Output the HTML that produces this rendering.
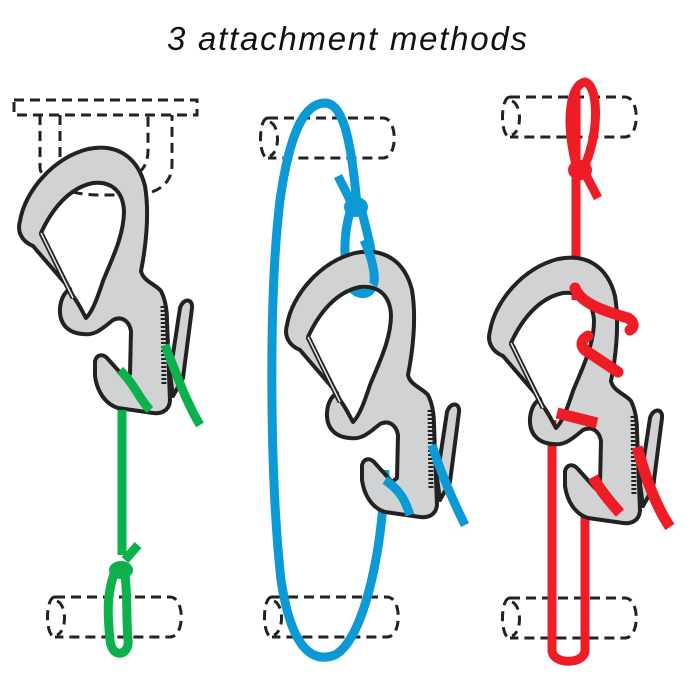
<!DOCTYPE html>
<html><head><style>
html,body{margin:0;padding:0;background:#fff;width:700px;height:700px;overflow:hidden}
</style></head><body>
<svg width="700" height="700" viewBox="0 0 700 700" xmlns="http://www.w3.org/2000/svg">
<defs>
<g id="cara">
  <path fill-rule="evenodd" fill="#d1d2d4" stroke="#222" stroke-width="4" stroke-linejoin="round" d="
  M300,350 C288,345 284,335 287,325 C292,295 320,262 355,253 C385,247 405,262 412,290 C417,320 412,355 408,375 C410,385 422,388 428,395 C433,405 434,415 434,425 L437,505 C436,515 428,518 420,517 L385,512 C372,508 364,495 362,480 L362,465 C364,458 370,458 374,462 L392,482 L397,478 L398,435 C396,424 388,420 380,424 C370,432 362,440 350,438 C335,437 326,428 327,412 C328,402 332,396 337,393 Z
  M308,337 C318,315 335,292 360,287 C378,285 390,295 391,315 C391,340 378,365 370,385 C365,400 360,415 353,422 C349,415 346,408 340,400 Z"/>
  <path d="M308,337 L340,402" stroke="#222" stroke-width="5"/>
  <path d="M308,337 L340,402" stroke="#e6e6e6" stroke-width="1.5"/>
  <path fill="#d1d2d4" stroke="#222" stroke-width="4" stroke-linejoin="round" d="M437,478 L447,412 C450,402 460,402 459,412 L450,482 L440,500 Z"/>
  <path d="M430,410 L431,488" stroke="#222" stroke-width="5" stroke-dasharray="2 2"/>
</g>
<g id="cyl" fill="none" stroke="#222" stroke-width="3" stroke-dasharray="10 6">
  <path d="M10,0 L125,0 C140,0 140,40 125,40 L10,40 M10,0 C0,0 0,40 10,40 M12,4 C22,8 22,34 12,38"/>
</g>
</defs>
<text x="347" y="50" text-anchor="middle" font-family="Liberation Sans, sans-serif" font-style="italic" font-size="33" fill="#111" textLength="360">3 attachment methods</text>

<g fill="none" stroke="#222" stroke-width="3" stroke-dasharray="10 6">
  <path d="M14,100 L197,100 L197,115 L14,115 Z"/>
  <path d="M40,115 L40,168 C42,185 70,195 100,195 L140,195 C160,192 172,182 172,165 L172,115"/>
  <path d="M60,115 L60,160 C70,172 110,176 135,175 C145,170 148,160 148,150 L148,115"/>
</g>
<use href="#cyl" x="258" y="118"/>
<use href="#cyl" x="500" y="97"/>
<use href="#cyl" x="45" y="597"/>
<use href="#cyl" x="262" y="597"/>
<use href="#cyl" x="500" y="598"/>

<g stroke="#0b9ad6" stroke-width="9" fill="none">
  <path d="M385,470 C382,560 362,640 335,655 C308,665 290,640 281,580 C270,480 268,300 280,200 C290,130 305,103 325,103 C345,103 352,150 357,205"/>
  <path d="M350,212 C342,240 344,270 352,288 C358,296 370,296 373,285 C376,265 368,235 362,212"/>
</g>
<path d="M576,90 L576,300 M552,420 L552,650 C552,665 585,665 585,650 L585,480" stroke="#ee1c25" stroke-width="9" fill="none"/>

<use href="#cara" transform="translate(-267,-104)"/>
<use href="#cara"/>
<use href="#cara" transform="translate(203,6)"/>

<g stroke="#0db14b" stroke-width="9" fill="none">
  <path d="M120,370 C135,385 140,400 150,410"/>
  <path d="M165,345 C175,370 185,400 200,425"/>
  <path d="M122,410 L122,555"/>
  <path d="M118,565 C105,590 108,620 110,640 C112,660 130,655 128,640 C126,620 128,590 124,570"/>
  <ellipse cx="121" cy="570" rx="12" ry="9" fill="#0db14b" stroke="none"/>
  <path d="M125,560 L138,545"/>
</g>
<g stroke="#0b9ad6" stroke-width="9" fill="none">
  <path d="M364,240 C374,262 376,280 373,285"/>
  <ellipse cx="356" cy="207" rx="12" ry="10" fill="#0b9ad6" stroke="none"/>
  <path d="M350,200 L338,176"/>
  <path d="M385,480 C400,490 405,500 410,515"/>
  <path d="M432,445 C440,470 450,495 465,525"/>
</g>
<g stroke="#ee1c25" stroke-width="11" fill="none">
  <path d="M575,288 C580,302 600,310 628,318 C635,322 634,328 630,330" stroke-linecap="round"/>
  <path d="M588,336 C580,340 580,348 588,352 L618,372" stroke-linecap="round"/>
  <path d="M557,413 L597,423"/>
  <path d="M593,477 C600,490 610,502 620,513"/>
  <path d="M637,447 C645,475 655,505 670,527"/>
</g>
<g stroke="#ee1c25" stroke-width="9" fill="none">
  <path d="M576,165 C565,120 570,85 585,82 C598,85 600,130 585,165"/>
  <ellipse cx="580" cy="170" rx="12" ry="10" fill="#ee1c25" stroke="none"/>
  <path d="M586,175 L598,198"/>
</g>
</svg>
</body></html>
